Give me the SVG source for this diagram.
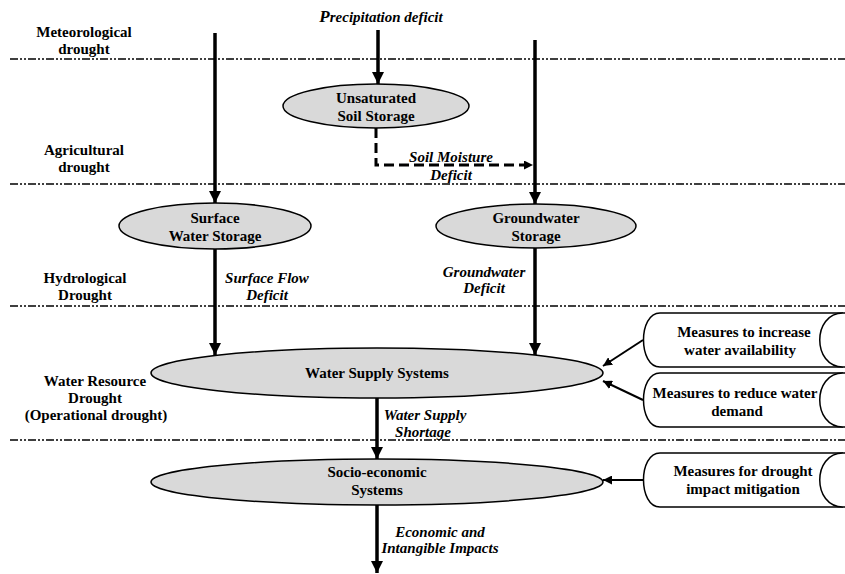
<svg xmlns="http://www.w3.org/2000/svg" width="845" height="574" viewBox="0 0 845 574">
<style>
.lbl{font-family:"Liberation Serif","Times New Roman",serif;font-weight:bold;font-size:15px;fill:#000;text-anchor:middle}
.it{font-style:italic}
.div{stroke:#000;stroke-width:1.5;stroke-dasharray:8 2 2 2 2 2;fill:none}
.ell{fill:#d9d9d9;stroke:#000;stroke-width:1.5}
.box{fill:#fff;stroke:#000;stroke-width:1.5}
.thick{stroke:#000;stroke-width:3.5;fill:none}
.thin{stroke:#000;stroke-width:2;fill:none}
</style>
<defs>
<marker id="ah" viewBox="0 0 12 12" refX="12" refY="6" markerWidth="12" markerHeight="12" markerUnits="userSpaceOnUse" orient="auto">
<path d="M0,0 L12,6 L0,12 z" fill="#000"/>
</marker>
<marker id="as" viewBox="0 0 10 10" refX="10" refY="5" markerWidth="9" markerHeight="9" markerUnits="userSpaceOnUse" orient="auto">
<path d="M0,0 L10,5 L0,10 z" fill="#000"/>
</marker>
</defs>
<rect width="845" height="574" fill="#fff"/>

<g id="dividers">
<line class="div" x1="10" y1="59" x2="845" y2="59"/>
<line class="div" x1="10" y1="184" x2="845" y2="184"/>
<line class="div" x1="10" y1="306" x2="845" y2="306"/>
<line class="div" x1="10" y1="440" x2="845" y2="440"/>
</g>

<g id="stage-labels">
<text class="lbl" x="84" y="37">Meteorological</text>
<text class="lbl" x="84" y="54">drought</text>
<text class="lbl" x="84" y="155">Agricultural</text>
<text class="lbl" x="84" y="172">drought</text>
<text class="lbl" x="85" y="283">Hydrological</text>
<text class="lbl" x="85" y="300">Drought</text>
<text class="lbl" x="95" y="386">Water Resource</text>
<text class="lbl" x="95" y="403">Drought</text>
<text class="lbl" x="96" y="420">(Operational drought)</text>
</g>

<g id="connectors">
<line class="thick" x1="215" y1="33" x2="215" y2="203" marker-end="url(#ah)"/>
<line class="thick" x1="378" y1="30" x2="378" y2="84" marker-end="url(#ah)"/>
<line class="thick" x1="535" y1="40" x2="535" y2="204" marker-end="url(#ah)"/>
<polyline points="376,128 376,165 533,165" fill="none" stroke="#000" stroke-width="3" stroke-dasharray="10 5" marker-end="url(#as)"/>
<line class="thick" x1="215" y1="249" x2="215" y2="355" marker-end="url(#ah)"/>
<line class="thick" x1="535" y1="248" x2="535" y2="355" marker-end="url(#ah)"/>
<line class="thick" x1="377" y1="398" x2="377" y2="459" marker-end="url(#ah)"/>
<line class="thick" x1="377" y1="505" x2="377" y2="573" marker-end="url(#ah)"/>
<line class="thin" x1="643" y1="340" x2="603" y2="366" marker-end="url(#as)"/>
<line class="thin" x1="643" y1="400" x2="603" y2="381" marker-end="url(#as)"/>
<line class="thin" x1="643" y1="480" x2="603" y2="480" marker-end="url(#as)"/>
<text class="lbl it" x="381" y="22"><tspan font-size="17">P</tspan>recipitation deficit</text>
<text class="lbl it" x="451" y="162">Soil Moisture</text>
<text class="lbl it" x="451" y="180">Deficit</text>
<text class="lbl it" x="267" y="283">Surface Flow</text>
<text class="lbl it" x="267" y="300">Deficit</text>
<text class="lbl it" x="484" y="277">Groundwater</text>
<text class="lbl it" x="484" y="293">Deficit</text>
<text class="lbl it" x="425" y="420">Water Supply</text>
<text class="lbl it" x="423" y="437">Shortage</text>
<text class="lbl it" x="440" y="537">Economic and</text>
<text class="lbl it" x="440" y="553">Intangible Impacts</text>
</g>

<g id="unsaturated-soil-storage">
<ellipse class="ell" cx="376" cy="106" rx="93" ry="22"/>
<text class="lbl" x="376" y="103">Unsaturated</text>
<text class="lbl" x="376" y="121">Soil Storage</text>
</g>

<g id="surface-water-storage">
<ellipse class="ell" cx="215" cy="226" rx="96" ry="23"/>
<text class="lbl" x="215" y="223">Surface</text>
<text class="lbl" x="215" y="241">Water Storage</text>
</g>

<g id="groundwater-storage">
<ellipse class="ell" cx="536" cy="226" rx="100" ry="22"/>
<text class="lbl" x="536" y="223">Groundwater</text>
<text class="lbl" x="536" y="241">Storage</text>
</g>

<g id="water-supply-systems">
<ellipse class="ell" cx="377" cy="373" rx="226" ry="25"/>
<text class="lbl" x="377" y="378">Water Supply Systems</text>
</g>

<g id="socio-economic-systems">
<ellipse class="ell" cx="377" cy="482" rx="226" ry="23"/>
<text class="lbl" x="377" y="477">Socio-economic</text>
<text class="lbl" x="377" y="495">Systems</text>
</g>

<g id="measures-increase">
<path class="box" d="M846,313 L660,313 C638,313 638,367 660,367 L846,367"/>
<path class="box" d="M843,313 C812,313 812,367 843,367" fill="none"/>
<text class="lbl" x="744" y="337">Measures to increase</text>
<text class="lbl" x="740" y="355">water availability</text>
</g>

<g id="measures-reduce">
<path class="box" d="M846,373 L660,373 C638,373 638,427 660,427 L846,427"/>
<path class="box" d="M843,373 C812,373 812,427 843,427" fill="none"/>
<text class="lbl" x="735" y="398">Measures to reduce water</text>
<text class="lbl" x="737" y="416">demand</text>
</g>

<g id="measures-mitigation">
<path class="box" d="M846,453 L660,453 C638,453 638,507 660,507 L846,507"/>
<path class="box" d="M843,453 C812,453 812,507 843,507" fill="none"/>
<text class="lbl" x="743" y="476">Measures for drought</text>
<text class="lbl" x="743" y="494">impact mitigation</text>
</g>
</svg>
